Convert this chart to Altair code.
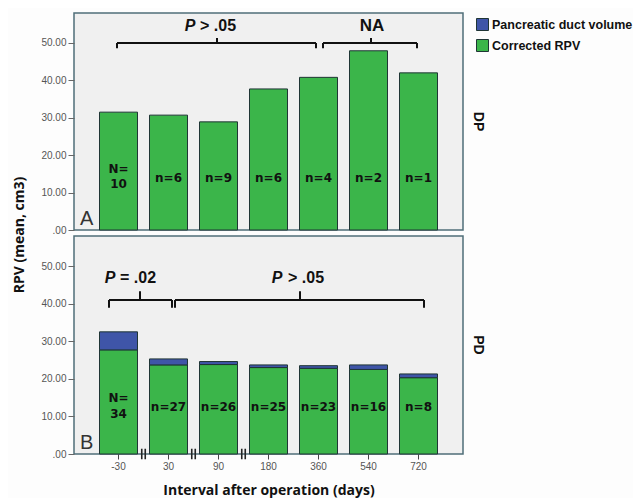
import altair as alt
import pandas as pd

# ---------------- data ----------------
intervals = ["-30", "30", "90", "180", "360", "540", "720"]
series = ["Pancreatic duct volume", "Corrected RPV"]
colors = ["#3f55a8", "#3bb54a"]

dp_corrected = [31.5, 30.7, 28.9, 37.7, 40.8, 47.9, 42.0]
pd_corrected = [27.7, 23.7, 23.8, 23.0, 22.8, 22.5, 20.3]
pd_duct = [4.8, 1.6, 0.8, 0.7, 0.7, 1.2, 1.0]

dp_counts = ["N=\n10", "n=6", "n=9", "n=6", "n=4", "n=2", "n=1"]
pd_counts = ["N=\n34", "n=27", "n=26", "n=25", "n=23", "n=16", "n=8"]

# brackets in slot units (bar i centred on i): left, right, centre, level, end-tip, centre-tip
dp_brackets = [(-0.03, 3.95, 1.97, 50.0, 48.6, 51.3), (4.09, 5.97, 5.05, 50.0, 48.6, 51.3)]
pd_brackets = [(-0.19, 1.07, 0.43, 41.0, 38.9, 43.3), (1.13, 6.11, 3.63, 41.0, 38.9, 43.3)]
# annotation texts: (italic part x, italic text, rest x, rest text, y)
dp_texts = [(1.43, "P", 1.63, "> .05", 54.4), (None, None, 5.07, "NA", 54.4)]
pd_texts = [(-0.17, "P", 0.03, "= .02", 46.8), (3.17, "P", 3.39, "> .05", 46.8)]
breaks = [0.5, 1.5, 2.5]

W = 389
FONT = "Liberation Sans"
yscale = alt.Scale(domain=[0, 58], nice=False)
slot_scale = alt.Scale(domain=[-0.89, 6.89], nice=False, zero=False)
yaxis = alt.Axis(values=[0, 10, 20, 30, 40, 50], title=None, grid=False, domain=False,
                 tickSize=6, tickColor="#666", labelColor="#555", labelFont=FONT,
                 labelFontSize=10, labelPadding=2,
                 labelExpr="datum.value == 0 ? '.00' : format(datum.value, '.2f')")


def Y(field):
    return alt.Y(field, scale=yscale, axis=yaxis)


def bar_frame(corrected, duct):
    rows = []
    for i, iv in enumerate(intervals):
        rows.append({"interval": iv, "series": "Corrected RPV", "value": corrected[i], "ord": 0})
        if duct is not None:
            rows.append({"interval": iv, "series": "Pancreatic duct volume", "value": duct[i], "ord": 1})
    return pd.DataFrame(rows)


def panel(corrected, duct, counts, brackets, texts, letter, rowlab, H, bottom,
          single_y, multi_y, lh, extra=None):
    df = bar_frame(corrected, duct)
    if bottom:
        xaxis = alt.Axis(title="Interval after operation (days)", labelAngle=0, domain=False,
                         ticks=True, tickSize=5, tickColor="#444", labelColor="#555",
                         labelFont=FONT, labelFontSize=10, labelPadding=2,
                         titleFont="Open Sans", titleFontSize=14, titleFontWeight="bold",
                         titleColor="#111", titlePadding=12)
    else:
        xaxis = None
    x = alt.X("interval:N", sort=intervals,
              scale=alt.Scale(paddingInner=0.24, paddingOuter=0.51), axis=xaxis)
    bars = alt.Chart(df).mark_bar(stroke="#1f3535", strokeWidth=1).encode(
        x=x,
        y=alt.Y("value:Q", stack="zero", scale=yscale, axis=yaxis),
        color=alt.Color("series:N", scale=alt.Scale(domain=series, range=colors),
                        legend=alt.Legend(title=None, orient="none", legendX=W + 13, legendY=5,
                                          padding=0,
                                          symbolType="square", symbolSize=144,
                                          symbolStrokeColor="#1f3535", symbolStrokeWidth=1,
                                          labelFont=FONT, labelFontSize=12.5,
                                          labelFontWeight="bold",
                                          labelColor="#111", labelOffset=3, rowPadding=4,
                                          labelLimit=200)),
        order=alt.Order("ord:Q"),
    )
    cdf = pd.DataFrame({"interval": intervals, "label": counts})
    cdf["multi"] = cdf["label"].str.contains("\n")
    lab1 = alt.Chart(cdf[~cdf["multi"]]).mark_text(
        font="DejaVu Sans", fontSize=12, fontWeight="bold", color="#111",
        baseline="middle").encode(
        x=alt.X("interval:N", sort=intervals), y=alt.value(single_y), text="label:N")
    lab2 = alt.Chart(cdf[cdf["multi"]]).mark_text(
        lineBreak="\n", lineHeight=lh, font="DejaVu Sans", fontSize=12, fontWeight="bold",
        color="#111", baseline="middle").encode(
        x=alt.X("interval:N", sort=intervals), y=alt.value(multi_y), text="label:N")
    main = alt.layer(bars, lab1, lab2)

    hb = pd.DataFrame([{"x1": b[0], "x2": b[1], "y": b[3]} for b in brackets])
    vrows = []
    for b in brackets:
        vrows += [{"x": b[0], "y": b[3], "y2": b[4]}, {"x": b[1], "y": b[3], "y2": b[4]},
                  {"x": b[2], "y": b[3], "y2": b[5]}]
    vb = pd.DataFrame(vrows)
    XS = lambda f: alt.X(f, scale=slot_scale, axis=None)
    hr = alt.Chart(hb).mark_rule(color="#111", strokeWidth=2).encode(
        x=XS("x1:Q"), x2="x2:Q", y=Y("y:Q"))
    vr = alt.Chart(vb).mark_rule(color="#111", strokeWidth=2).encode(
        x=XS("x:Q"), y=Y("y:Q"), y2="y2:Q")
    it = pd.DataFrame([{"x": t[0], "t": t[1], "y": t[4]} for t in texts if t[1]])
    rt = pd.DataFrame([{"x": t[2], "t": t[3], "y": t[4], "c": t[1] is None} for t in texts])
    itx = alt.Chart(it).mark_text(font=FONT, fontSize=16, fontWeight="bold", fontStyle="italic",
                                  color="#111", align="center", baseline="middle").encode(
        x=XS("x:Q"), y=Y("y:Q"), text="t:N")
    rtx_l = alt.Chart(rt[~rt["c"]]).mark_text(font=FONT, fontSize=16, fontWeight="bold",
                                             color="#111", align="left", baseline="middle").encode(
        x=XS("x:Q"), y=Y("y:Q"), text="t:N")
    layers = [hr, vr, itx, rtx_l]
    if rt["c"].any():
        rtx_c = alt.Chart(rt[rt["c"]]).mark_text(font=FONT, fontSize=17, fontWeight="bold",
                                                color="#111", align="center",
                                                baseline="middle").encode(
            x=XS("x:Q"), y=Y("y:Q"), text="t:N")
        layers.append(rtx_c)
    if bottom:
        brows = []
        for b in breaks:
            brows += [{"x": b - 0.035, "y": -1.4, "y2": 1.4}, {"x": b + 0.035, "y": -1.4, "y2": 1.4}]
        bdf = pd.DataFrame(brows)
        layers.append(alt.Chart(bdf).mark_rule(color="#222", strokeWidth=1.6).encode(
            x=XS("x:Q"), y=Y("y:Q"), y2="y2:Q"))
    ann = alt.layer(*layers)

    letter_df = pd.DataFrame({"t": [letter]})
    let = alt.Chart(letter_df).mark_text(font=FONT, fontSize=20, color="#333", align="left",
                                         baseline="alphabetic").encode(
        x=alt.value(6), y=alt.value(H - 5), text="t:N")
    row_df = pd.DataFrame({"t": [rowlab]})
    row = alt.Chart(row_df).mark_text(font=FONT, fontSize=14, fontWeight="bold", color="#111",
                                      angle=90, align="center", baseline="middle").encode(
        x=alt.value(W + 15), y=alt.value(H / 2), text="t:N")
    extras = [let, row]
    if extra is not None:
        extras.append(extra)
    return alt.layer(main, ann, *extras).resolve_scale(x="independent").properties(
        width=W, height=H)


ytitle = alt.Chart(pd.DataFrame({"t": ["RPV (mean, cm3)"]})).mark_text(
    font="Open Sans", fontSize=14, fontWeight="bold", color="#111", angle=270,
    align="center", baseline="middle").encode(x=alt.value(-54), y=alt.value(222), text="t:N")

top = panel(dp_corrected, None, dp_counts, dp_brackets, dp_texts, "A", "DP", 217, False,
            165, 156, 15, ytitle)
bot = panel(pd_corrected, pd_duct, pd_counts, pd_brackets, pd_texts, "B", "PD", 218, True,
            171, 162, 16)

chart = alt.vconcat(top, bot, spacing=6, bounds="flush").properties(
    background="#fdfdfd",
    padding={"left": 4, "top": 4, "right": 0, "bottom": 0},
).configure_view(stroke="#4f6e78", strokeWidth=1.5, fill="#f0f0f0")

chart.save("out.html", embed_options={"renderer": "svg", "actions": False})
